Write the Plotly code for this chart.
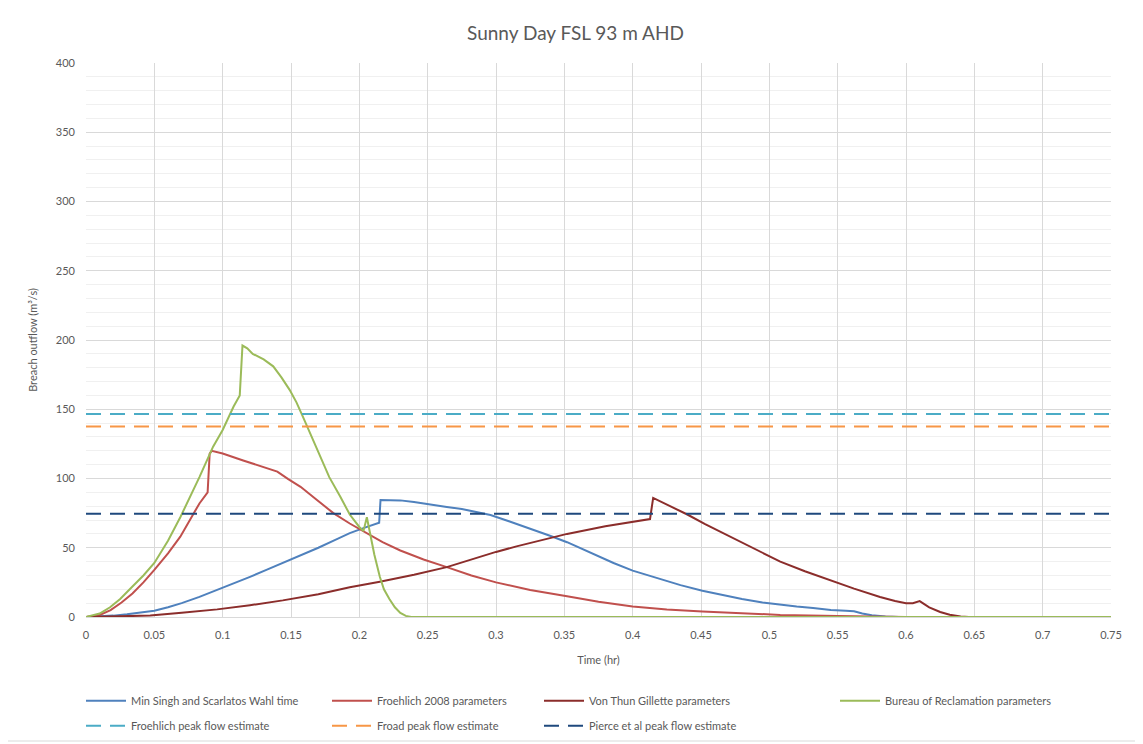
import plotly.graph_objects as go

# ---- data ----
t_min_singh = [0, 0.01, 0.02, 0.03, 0.04, 0.05, 0.06, 0.07, 0.083, 0.096, 0.108, 0.12, 0.132, 0.144, 0.157,
               0.17, 0.182, 0.193, 0.204, 0.2145, 0.2155, 0.23, 0.24, 0.252, 0.264, 0.275, 0.285, 0.296, 0.31,
               0.325, 0.34, 0.352, 0.369, 0.386, 0.4, 0.418, 0.435, 0.451, 0.465, 0.48, 0.495, 0.508, 0.52,
               0.532, 0.545, 0.556, 0.562, 0.568, 0.575, 0.585, 0.595, 0.75]
q_min_singh = [0, 0.3, 1, 2, 3, 4.5, 7, 10, 14.5, 19.5, 24, 29, 34, 39, 44.5,
               50, 55.5, 60.6, 64.5, 68, 84.5, 84.2, 83, 81, 79.5, 78, 76, 73.6, 69,
               64, 58.5, 54, 46.5, 39, 33.5, 28, 23, 19, 16, 13, 10.5, 8.7, 7.5,
               6.5, 5, 4.6, 4.2, 2.5, 1.2, 0.3, 0, 0]

t_froehlich = [0, 0.01, 0.018, 0.026, 0.034, 0.042, 0.05, 0.06, 0.069, 0.076, 0.083, 0.089, 0.0905, 0.092,
               0.1, 0.115, 0.13, 0.14, 0.148, 0.157, 0.169, 0.181, 0.193, 0.205, 0.217, 0.23, 0.247, 0.264,
               0.282, 0.30, 0.325, 0.352, 0.375, 0.40, 0.425, 0.451, 0.48, 0.508, 0.55, 0.6, 0.75]
q_froehlich = [0, 1.5, 5, 10.5, 17, 25, 34, 46, 58, 70, 82, 90, 118, 120,
               118, 113, 108.5, 105, 99.5, 94, 84.5, 75, 67.5, 61, 54, 48, 41.5, 36,
               30, 25, 19.5, 15, 11, 7.5, 5.5, 4, 2.5, 1.5, 0.7, 0, 0]

t_von_thun = [0, 0.02, 0.047, 0.07, 0.096, 0.12, 0.144, 0.17, 0.193, 0.215, 0.24, 0.264, 0.282, 0.30,
              0.315, 0.33, 0.352, 0.38, 0.4127, 0.415, 0.428, 0.44, 0.453, 0.465, 0.48, 0.493, 0.508,
              0.526, 0.544, 0.562, 0.581, 0.592, 0.6, 0.605, 0.61, 0.617, 0.625, 0.632, 0.64, 0.646, 0.75]
q_von_thun = [0, 0.2, 1, 3, 5.5, 8.5, 12, 16.5, 21.5, 25.5, 30.5, 36, 41.5, 47,
              51, 54.5, 60, 65.5, 70.7, 86, 80, 74, 67, 61, 53.5, 47, 40,
              33, 26.7, 20.5, 14.4, 11.5, 10, 10, 11.5, 7, 3.6, 1.6, 0.4, 0, 0]

t_bureau = [0, 0.01, 0.0176, 0.025, 0.034, 0.042, 0.05, 0.06, 0.069, 0.076, 0.083, 0.093, 0.1, 0.108,
            0.1125, 0.1145, 0.118, 0.122, 0.13, 0.137, 0.143, 0.149, 0.154, 0.159, 0.165, 0.171, 0.178,
            0.186, 0.193, 0.2, 0.203, 0.2055, 0.208, 0.211, 0.215, 0.218, 0.222, 0.226, 0.23, 0.234,
            0.238, 0.75]
q_bureau = [0, 2.5, 7, 13, 22, 30, 39, 55, 72, 86, 101, 123, 135, 152,
            160, 196, 194, 190, 186, 181, 173, 164, 155, 144, 130, 116, 101,
            87, 74, 65, 62, 72, 60, 45, 29, 20, 13, 7, 3, 0.8,
            0, 0]

t_range = [0, 0.75]
froehlich_peak = 146.5
froad_peak = 137.5
pierce_peak = 74.5

series_names = ["Min Singh and Scarlatos Wahl time", "Froehlich 2008 parameters",
                "Von Thun Gillette parameters", "Bureau of Reclamation parameters",
                "Froehlich peak flow estimate", "Froad peak flow estimate",
                "Pierce et al peak flow estimate"]

x_ticks = [0, 0.05, 0.1, 0.15, 0.2, 0.25, 0.3, 0.35, 0.4, 0.45, 0.5, 0.55, 0.6, 0.65, 0.7, 0.75]
x_tick_labels = ["0", "0.05", "0.1", "0.15", "0.2", "0.25", "0.3", "0.35", "0.4", "0.45",
                 "0.5", "0.55", "0.6", "0.65", "0.7", "0.75"]

FONT = "Lato, 'Liberation Sans', sans-serif"
GREY = "#595959"

fig = go.Figure()

def add(x, y, name, color, legend, dash="solid"):
    fig.add_trace(go.Scatter(x=x, y=y, mode="lines", name=name, legend=legend,
                             legendgroup=name,
                             line=dict(color=color, width=2, dash=dash)))

add(t_min_singh, q_min_singh, series_names[0], "#4F81BD", "legend")
add(t_froehlich, q_froehlich, series_names[1], "#C0504D", "legend2")
add(t_von_thun, q_von_thun, series_names[2], "#8B2D2B", "legend3")
add(t_bureau, q_bureau, series_names[3], "#9BBB59", "legend4")
DASH = "15px,9px"
add(t_range, [froehlich_peak] * 2, series_names[4], "#4BACC6", "legend", DASH)
add(t_range, [froad_peak] * 2, series_names[5], "#F79646", "legend2", DASH)
add(t_range, [pierce_peak] * 2, series_names[6], "#1F497D", "legend3", DASH)

leg_common = dict(orientation="v", yanchor="top", y=-0.125, xanchor="left",
                  font=dict(family=FONT, size=11, color=GREY), bgcolor="rgba(0,0,0,0)",
                  tracegroupgap=6, traceorder="grouped", itemwidth=40)
plot_w = 1025.0
plot_h = 554.0
def lx(px):
    return (px - 86) / plot_w

fig.update_layout(
    width=1135, height=736,
    paper_bgcolor="white", plot_bgcolor="white",
    margin=dict(l=78, r=32, t=55, b=127, autoexpand=False),
    title=dict(text="Sunny Day FSL 93 m AHD", x=0.5, xanchor="center", y=0.966, yanchor="middle",
               font=dict(family=FONT, size=19, color=GREY), automargin=False),
    legend=dict(leg_common, x=lx(81)),
    legend2=dict(leg_common, x=lx(327)),
    legend3=dict(leg_common, x=lx(539)),
    legend4=dict(leg_common, x=lx(835)),
    xaxis=dict(range=[0, 0.75], tickvals=x_ticks, ticktext=x_tick_labels, automargin=False,
               showgrid=True, gridcolor="#D9D9D9", gridwidth=1,
               showline=True, linecolor="#D9D9D9", zeroline=False,
               ticks="", ticklabelstandoff=8, tickfont=dict(family=FONT, size=11, color=GREY),
               title=dict(text="Time (hr)", font=dict(family=FONT, size=11, color=GREY), standoff=16)),
    yaxis=dict(range=[0, 400], dtick=50, tick0=0, automargin=False,
               showgrid=True, gridcolor="#D9D9D9", gridwidth=1,
               minor=dict(dtick=10, showgrid=True, gridcolor="#F0F0F0", gridwidth=1),
               showline=False, zeroline=False, ticks="", ticklabelstandoff=10,
               tickfont=dict(family=FONT, size=11, color=GREY),
               title=dict(text="Breach outflow (m³/s)", font=dict(family=FONT, size=11, color=GREY),
                          standoff=16)),
)

fig.add_shape(type="rect", xref="paper", yref="paper",
              x0=(3 - 86) / plot_w, x1=(1140 - 86) / plot_w,
              y0=(617 - 741) / plot_h, y1=(617 - 3) / plot_h,
              line=dict(color="#D9D9D9", width=1), fillcolor="rgba(0,0,0,0)", layer="below")

fig.write_html("out.html")
